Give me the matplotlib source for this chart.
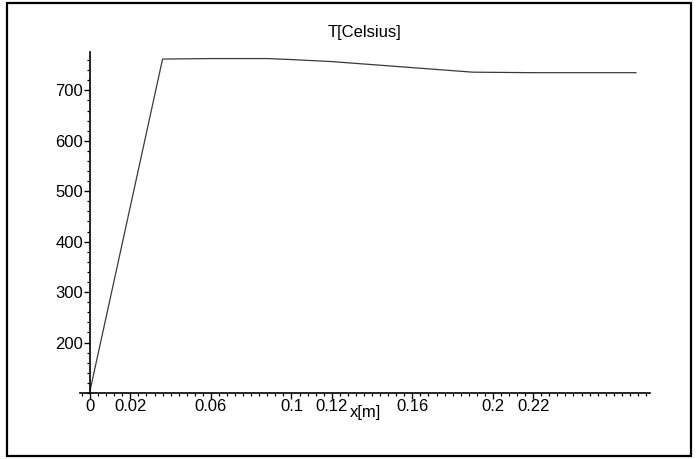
import matplotlib
matplotlib.use("Agg")
import matplotlib.pyplot as plt
from matplotlib.ticker import FixedLocator, MultipleLocator
from matplotlib.patches import Rectangle

# Temperature profile along the reactor length
x_m = [0.0, 0.036, 0.06, 0.088, 0.10, 0.11, 0.12, 0.13, 0.14, 0.15,
       0.16, 0.17, 0.18, 0.19, 0.22, 0.25, 0.271]
T_celsius = [105, 762, 763, 763, 761, 759, 757, 754, 751, 748,
             745, 742, 739, 736, 735, 735, 735]

x_ticks = [0, 0.02, 0.06, 0.1, 0.12, 0.16, 0.2, 0.22]
x_tick_labels = ["0", "0.02", "0.06", "0.1", "0.12", "0.16", "0.2", "0.22"]
y_ticks = [200, 300, 400, 500, 600, 700]

plt.rcParams["font.family"] = ["Liberation Sans", "DejaVu Sans"]

W, H = 696, 459
fig = plt.figure(figsize=(W / 100, H / 100), dpi=100)

# axes box in pixels
ax_l, ax_r, ax_t, ax_b = 80, 650, 52, 393
ax = fig.add_axes([ax_l / W, 1 - ax_b / H, (ax_r - ax_l) / W, (ax_b - ax_t) / H])

ax.plot(x_m, T_celsius, color="#3a3a3a", lw=0.9)

ax.set_xlim(-0.005, 0.278)
ax.set_ylim(100, 776)

for side in ("top", "right"):
    ax.spines[side].set_visible(False)
ax.spines["left"].set_position(("data", 0))
ax.spines["left"].set_linewidth(1.2)
ax.spines["bottom"].set_linewidth(1.2)

ax.xaxis.set_major_locator(FixedLocator(x_ticks))
ax.set_xticklabels(x_tick_labels)
ax.xaxis.set_minor_locator(MultipleLocator(0.004))
ax.yaxis.set_major_locator(FixedLocator(y_ticks))
ax.yaxis.set_minor_locator(MultipleLocator(20))

ax.tick_params(axis="both", which="major", direction="out", length=4,
               width=1.0, labelsize=12, colors="black")
ax.tick_params(axis="both", which="minor", direction="out", length=2.5,
               width=0.9)
ax.tick_params(axis="x", which="major", pad=0)
ax.tick_params(axis="y", which="major", pad=1)

ax.set_title("T[Celsius]", fontsize=12, pad=11)
ax.set_xlabel("x[m]", fontsize=12, labelpad=-6)

# outer frame around the figure
fig.patches.append(Rectangle((7 / W, 1 - 456 / H), (691 - 7) / W, (456 - 3) / H,
                             transform=fig.transFigure, fill=False,
                             edgecolor="black", lw=1.6))

fig.savefig("out.png", dpi=100)
